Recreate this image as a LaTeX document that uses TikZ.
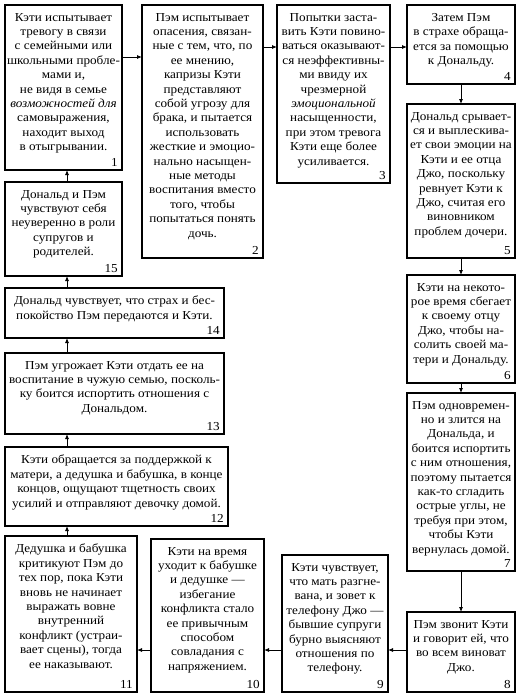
\documentclass[tikz,border=0pt]{standalone}
\usepackage{fontspec}
\setmainfont{Liberation Serif}[FakeStretch=1.08]
\usetikzlibrary{arrows.meta,calc}
\begin{document}
\begin{tikzpicture}[x=1pt,y=-1pt,
  box/.style={draw, line width=1.1pt, anchor=north west, inner sep=0pt, outer sep=0pt},
  txt/.style={anchor=north, align=center, inner sep=0pt, font=\fontsize{12.2}{14.4}\selectfont},
  num/.style={anchor=south east, inner sep=0pt, xshift=-4pt, yshift=3pt, font=\fontsize{12.2}{14}\selectfont},
  arr/.style={-{Latex[length=5pt,width=4pt]}, line width=0.8pt}]
\useasboundingbox[fill=white] (0,0) rectangle (521,699);

% boxes
\node[box, minimum width=117pt, minimum height=165pt] (b1) at (5,5) {};
\node[box, minimum width=121pt, minimum height=253pt] (b2) at (142,5) {};
\node[box, minimum width=113pt, minimum height=178pt] (b3) at (277,5) {};
\node[box, minimum width=108pt, minimum height=79pt] (b4) at (407,5) {};
\node[box, minimum width=108pt, minimum height=154pt] (b5) at (407,104) {};
\node[box, minimum width=108pt, minimum height=108pt] (b6) at (407,275) {};
\node[box, minimum width=108pt, minimum height=178pt] (b7) at (407,393) {};
\node[box, minimum width=108pt, minimum height=80pt] (b8) at (407,612) {};
\node[box, minimum width=106pt, minimum height=137pt] (b9) at (282,555) {};
\node[box, minimum width=113pt, minimum height=153pt] (b10) at (151,539) {};
\node[box, minimum width=132pt, minimum height=156pt] (b11) at (5,536) {};
\node[box, minimum width=223pt, minimum height=79pt] (b12) at (5,447) {};
\node[box, minimum width=219pt, minimum height=81pt] (b13) at (5,353) {};
\node[box, minimum width=219pt, minimum height=50pt] (b14) at (5,288) {};
\node[box, minimum width=117pt, minimum height=94pt] (b15) at (5,182) {};

% texts
\node[txt] (t1) at ([yshift=-8pt]b1.north) {Кэти испытывает\\тревогу в связи\\с семейными или\\школьными пробле-\\мами и,\\не видя в семье\\\textit{возможностей для}\\самовыражения,\\находит выход\\в отыгрывании.};
\node[txt] (t2) at ([yshift=-8pt]b2.north) {Пэм испытывает\\опасения, связан-\\ные с тем, что, по\\ее мнению,\\капризы Кэти\\представляют\\собой угрозу для\\брака, и пытается\\использовать\\жесткие и эмоцио-\\нально насыщен-\\ные методы\\воспитания вместо\\того, чтобы\\попытаться понять\\дочь.};
\node[txt] (t3) at ([yshift=-8pt]b3.north) {Попытки заста-\\вить Кэти повино-\\ваться оказывают-\\ся неэффективны-\\ми ввиду их\\чрезмерной\\\textit{эмоциональной}\\насыщенности,\\при этом тревога\\Кэти еще более\\усиливается.};
\node[txt] (t4) at ([yshift=-8pt]b4.north) {Затем Пэм\\в страхе обраща-\\ется за помощью\\к Дональду.};
\node[txt] (t5) at ([yshift=-8pt]b5.north) {Дональд срывает-\\ся и выплескива-\\ет свои эмоции на\\Кэти и ее отца\\Джо, поскольку\\ревнует Кэти к\\Джо, считая его\\виновником\\проблем дочери.};
\node[txt] (t6) at ([yshift=-8pt]b6.north) {Кэти на некото-\\рое время сбегает\\к своему отцу\\Джо, чтобы на-\\солить своей ма-\\тери и Дональду.};
\node[txt] (t7) at ([yshift=-8pt]b7.north) {Пэм одновремен-\\но и злится на\\Дональда, и\\боится испортить\\с ним отношения,\\поэтому пытается\\как-то сгладить\\острые углы, не\\требуя при этом,\\чтобы Кэти\\вернулась домой.};
\node[txt] (t8) at ([yshift=-8pt]b8.north) {Пэм звонит Кэти\\и говорит ей, что\\во всем виноват\\Джо.};
\node[txt] (t9) at ([yshift=-8pt]b9.north) {Кэти чувствует,\\что мать разгне-\\вана, и зовет к\\телефону Джо —\\бывшие супруги\\бурно выясняют\\отношения по\\телефону.};
\node[txt] (t10) at ([yshift=-8pt]b10.north) {Кэти на время\\уходит к бабушке\\и дедушке —\\избегание\\конфликта стало\\ее привычным\\способом\\совладания с\\напряжением.};
\node[txt] (t11) at ([yshift=-8pt]b11.north) {Дедушка и бабушка\\критикуют Пэм до\\тех пор, пока Кэти\\вновь не начинает\\выражать вовне\\внутренний\\конфликт (устраи-\\вает сцены), тогда\\ее наказывают.};
\node[txt] (t12) at ([yshift=-8pt]b12.north) {Кэти обращается за поддержкой к\\матери, а дедушка и бабушка, в конце\\концов, ощущают тщетность своих\\усилий и отправляют девочку домой.};
\node[txt] (t13) at ([yshift=-8pt]b13.north) {Пэм угрожает Кэти отдать ее на\\воспитание в чужую семью, посколь-\\ку боится испортить отношения с\\Дональдом.};
\node[txt] (t14) at ([yshift=-8pt]b14.north) {Дональд чувствует, что страх и бес-\\покойство Пэм передаются и Кэти.};
\node[txt] (t15) at ([yshift=-8pt]b15.north) {Дональд и Пэм\\чувствуют себя\\неуверенно в роли\\супругов и\\родителей.};

% numbers
\node[num] (n1) at (b1.south east) {1};
\node[num] (n2) at (b2.south east) {2};
\node[num] (n3) at (b3.south east) {3};
\node[num] (n4) at (b4.south east) {4};
\node[num] (n5) at (b5.south east) {5};
\node[num] (n6) at (b6.south east) {6};
\node[num] (n7) at (b7.south east) {7};
\node[num] (n8) at (b8.south east) {8};
\node[num] (n9) at (b9.south east) {9};
\node[num] (n10) at (b10.south east) {10};
\node[num] (n11) at (b11.south east) {11};
\node[num] (n12) at (b12.south east) {12};
\node[num] (n13) at (b13.south east) {13};
\node[num] (n14) at (b14.south east) {14};
\node[num] (n15) at (b15.south east) {15};

% connectors
\draw[arr] ([yshift=-52pt]b1.north east) -- ([yshift=-52pt]b2.north west);
\draw[arr] ([yshift=-42pt]b2.north east) -- ([yshift=-42pt]b3.north west);
\draw[arr] ([yshift=-42pt]b3.north east) -- ([yshift=-42pt]b4.north west);
\draw[arr] (b4.south) -- (b5.north);
\draw[arr] (b5.south) -- (b6.north);
\draw[arr] (b6.south) -- (b7.north);
\draw[arr] (b7.south) -- (b8.north);
\draw[arr] ([yshift=42pt]b8.south west) -- ([yshift=42pt]b9.south east);
\draw[arr] ([yshift=42pt]b9.south west) -- ([yshift=42pt]b10.south east);
\draw[arr] ([yshift=42pt]b10.south west) -- ([yshift=42pt]b11.south east);
\draw[arr] ([xshift=62pt]b11.north west) -- ([xshift=62pt]b12.south west);
\draw[arr] ([xshift=62pt]b12.north west) -- ([xshift=62pt]b13.south west);
\draw[arr] ([xshift=62pt]b13.north west) -- ([xshift=62pt]b14.south west);
\draw[arr] ([xshift=62pt]b14.north west) -- ([xshift=62pt]b15.south west);
\draw[arr] ([xshift=62pt]b15.north west) -- ([xshift=62pt]b1.south west);
\end{tikzpicture}
\end{document}
